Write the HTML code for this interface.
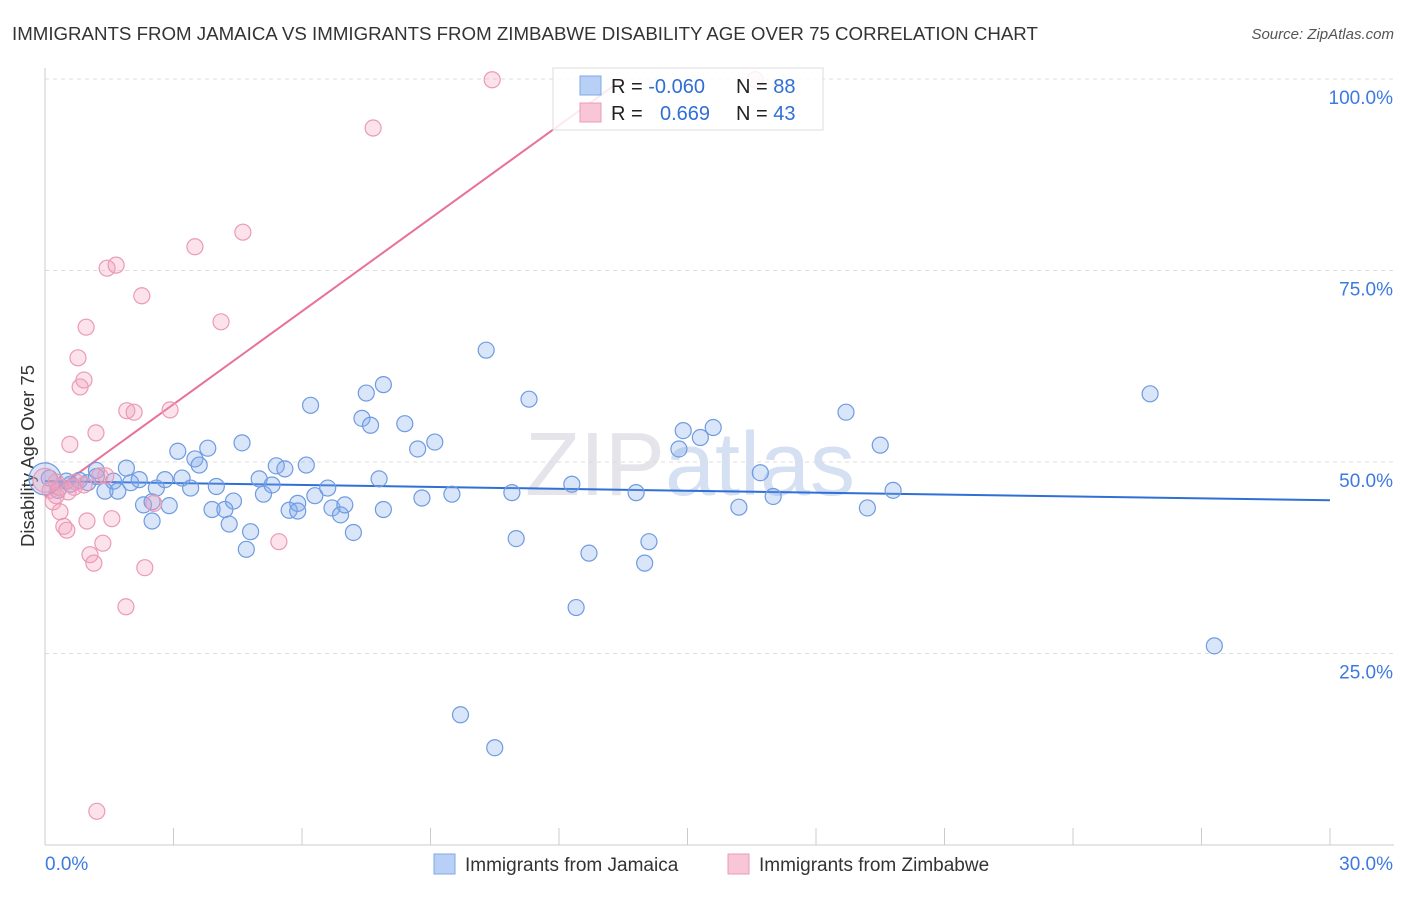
<!DOCTYPE html>
<html><head><meta charset="utf-8"><style>
body{margin:0;background:#fff;font-family:"Liberation Sans",sans-serif;}
svg text{font-family:"Liberation Sans",sans-serif;}
</style></head><body>
<svg id="chart" width="1406" height="892" xmlns="http://www.w3.org/2000/svg">
<text x="12" y="40" font-size="18.7" fill="#333">IMMIGRANTS FROM JAMAICA VS IMMIGRANTS FROM ZIMBABWE DISABILITY AGE OVER 75 CORRELATION CHART</text>
<text x="1394" y="39" font-size="15" fill="#555" text-anchor="end" font-style="italic">Source: ZipAtlas.com</text>
<text x="34" y="456" font-size="18.5" fill="#333" text-anchor="middle" transform="rotate(-90 34 456)">Disability Age Over 75</text>
<text x="690" y="495" font-size="90" fill="#e4e4ea" text-anchor="middle" font-family="Liberation Serif">ZIP<tspan font-family="Liberation Sans" fill="#d5e0f2">atlas</tspan></text>
<g id="grid"></g><g id="axes"></g><g id="lines"></g><g id="pts"></g>
<g>
<rect x="553" y="68" width="270" height="62" fill="#fff" fill-opacity="0.85" stroke="#ddd"/>
<rect x="580" y="76" width="21" height="19" fill="#b8d0f5" stroke="#7fa7e6"/>
<rect x="580" y="103" width="21" height="19" fill="#f8c6d6" stroke="#ec9bb6"/>
<text x="611" y="93" font-size="20" fill="#222">R = <tspan fill="#2f6fd6">-0.060</tspan></text>
<text x="736" y="93" font-size="20" fill="#222">N = <tspan fill="#2f6fd6">88</tspan></text>
<text x="611" y="120" font-size="20" fill="#222">R = <tspan fill="#2f6fd6" x="660">0.669</tspan></text>
<text x="736" y="120" font-size="20" fill="#222">N = <tspan fill="#2f6fd6">43</tspan></text>
</g>
<g>
<rect x="434" y="854" width="21" height="20" fill="#b8d0f5" stroke="#7fa7e6"/>
<text x="465" y="871" font-size="19" fill="#333">Immigrants from Jamaica</text>
<rect x="728" y="854" width="21" height="20" fill="#f8c6d6" stroke="#ec9bb6"/>
<text x="759" y="871" font-size="19" fill="#333">Immigrants from Zimbabwe</text>
</g>
</svg>
<script>
const yTicks=[25,50,75,100];
const xTickLabels=["0.0%","30.0%"];
const jamX=[0.1,0.3,0.5,0.6,0.8,1.0,1.2,1.2,1.4,1.6,1.7,1.9,2.0,2.2,2.3,2.5,2.5,2.6,2.8,2.9,3.1,3.2,3.4,3.5,3.6,3.8,3.9,4.0,4.2,4.3,4.4,4.6,4.7,4.8,5.0,5.1,5.3,5.4,5.6,5.7,5.9,5.9,6.1,6.2,6.3,6.6,6.7,6.9,7.0,7.2,7.4,7.5,7.6,7.8,7.9,7.9,8.4,8.7,8.8,9.1,9.5,9.7,10.3,10.5,10.9,11.0,11.3,12.3,12.4,12.7,13.8,14.0,14.1,14.8,14.9,15.3,15.6,16.2,16.7,17.0,18.7,19.2,19.5,19.8,25.8,27.3,0.0];
const jamY=[47.9,46.3,47.5,47.1,47.6,47.3,48.9,48.1,46.2,47.5,46.2,49.2,47.3,47.7,44.4,44.8,42.3,46.6,47.7,44.3,51.4,47.9,46.6,50.4,49.6,51.8,43.8,46.8,43.8,41.9,44.9,52.5,38.6,40.9,47.8,45.8,47.0,49.5,49.1,43.7,44.6,43.6,49.6,57.4,45.6,46.6,44.0,43.1,44.4,40.8,55.7,59.0,54.8,47.8,60.1,43.8,55.0,51.7,45.3,52.6,45.8,17.0,64.6,12.7,46.0,40.0,58.2,47.1,31.0,38.1,46.0,36.8,39.6,51.7,54.1,53.2,54.5,44.1,48.6,45.5,56.5,44.0,52.2,46.3,58.9,26.0,47.8];
const zimX=[0.0,0.12,0.19,0.26,0.35,0.44,0.51,0.58,0.68,0.77,0.82,0.91,0.96,0.98,1.05,1.14,1.19,1.28,1.35,1.42,1.45,1.56,1.66,1.89,1.91,2.08,2.26,2.54,2.92,3.50,4.11,4.62,5.46,2.33,7.66,10.44,16.58,1.21,0.35,0.54,0.26,0.91,0.72];
const zimY=[47.6,46.3,44.8,45.6,43.5,41.6,41.1,52.3,46.7,63.6,59.8,60.7,67.6,42.3,37.9,36.8,53.8,48.2,39.4,48.2,75.3,42.6,75.7,31.1,56.7,56.5,71.7,44.6,56.8,78.1,68.3,80.0,39.6,36.2,93.6,99.9,99.9,4.4,46.7,46.1,47.4,47.0,47.4];
const blueLine=[47.5,45.0];
const pinkLine=[45.4,0.7235];
const NS="http://www.w3.org/2000/svg";
const xs=v=>45+v/30*1285;
const ys=v=>845-v*7.66;
function mk(t,a,p){const e=document.createElementNS(NS,t);for(const k in a)e.setAttribute(k,a[k]);document.getElementById(p).appendChild(e);return e;}
yTicks.forEach(t=>{
 const g=mk('line',{x1:45,x2:1394,y1:ys(t),y2:ys(t),stroke:'#ddd','stroke-dasharray':'4,4'},'grid');
 
 
 const l=mk('text',{x:1393,y:ys(t)+25,'font-size':19,fill:'#3d7ae0','text-anchor':'end'},'grid');
 l.textContent=t.toFixed(1)+'%';
 
 
});
mk('line',{x1:45,x2:45,y1:68,y2:845,stroke:'#ccc'},'axes');
mk('line',{x1:45,x2:1394,y1:845,y2:845,stroke:'#ccc'},'axes');
for(let i=0;i<=10;i++){const t=mk('line',{x1:xs(i*3),x2:xs(i*3),y1:828,y2:845,stroke:'#ccc'},'axes');}
[[0,xTickLabels[0],'start',45],[30,xTickLabels[1],'end',1393]].forEach(d=>{const t=mk('text',{x:d[3],y:870,'font-size':19,fill:'#3d7ae0','text-anchor':d[2]},'axes');t.textContent=d[1];});
const bl=mk('line',{x1:xs(0),y1:ys(blueLine[0]),x2:xs(30),y2:ys(blueLine[1]),stroke:'#2f6fd6','stroke-width':2},'lines');


const x100=45+(ys(pinkLine[0])-ys(100))/pinkLine[1];
const xEnd=Math.min(x100,620);
const pl=mk('line',{x1:45,y1:ys(pinkLine[0]),x2:xEnd,y2:ys(pinkLine[0])-(xEnd-45)*pinkLine[1],stroke:'#e8709a','stroke-width':2},'lines');


jamX.forEach((x,i)=>{const c=mk('circle',{cx:xs(x),cy:ys(jamY[i]),r:i==jamX.length-1?16:8,fill:'rgba(130,170,235,0.3)',stroke:'#6f9be0','stroke-width':1.2},'pts');});
zimX.forEach((x,i)=>{const c=mk('circle',{cx:xs(x),cy:ys(zimY[i]),r:i==0?12:8,fill:'rgba(242,160,190,0.3)',stroke:'#eb9ab6','stroke-width':1.2},'pts');});
</script>
</body></html>
